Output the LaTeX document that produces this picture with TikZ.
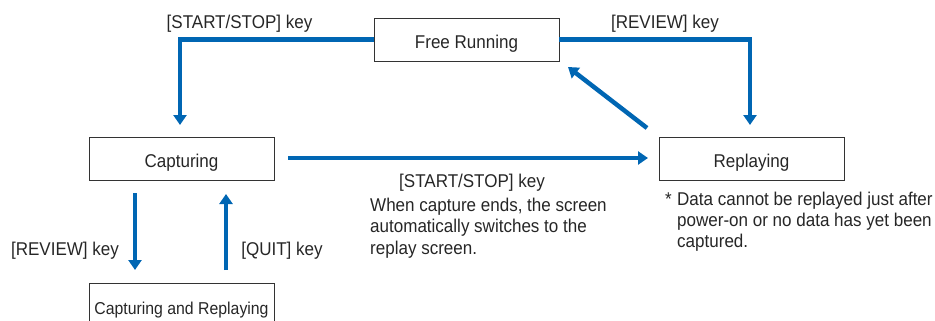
\documentclass[tikz,border=0pt]{standalone}
\usepackage{fontspec}
\setmainfont{Liberation Sans}[FakeStretch=0.92]
\usetikzlibrary{arrows.meta}
\definecolor{arrowblue}{HTML}{0066B3}
\definecolor{boxgray}{HTML}{333333}
\begin{document}
\begin{tikzpicture}[x=1pt,y=-1pt,
  every node/.style={font=\fontsize{18.5}{21.3}\selectfont, text=black!85, inner sep=0pt},
  statebox/.style={draw=boxgray, line width=0.9pt, minimum width=185pt, minimum height=43pt,
    text height=18pt, text depth=0pt},
  arr/.style={draw=arrowblue, line width=4.5pt, -{Triangle[width=13pt,length=10pt]}}]
\useasboundingbox (0,0) rectangle (935,321);
\clip (0,0) rectangle (935,321);
\node[statebox] (fr) at (466.5,39.5) {Free Running};
\node[statebox] (rp) at (751.5,158.5) {Replaying};
\node[statebox] (cap) at (181.5,158.5) {Capturing};
\node[statebox, font=\fontsize{17.2}{21}\selectfont] (cr) at (181.5,305) {Capturing and Replaying};
\coordinate (t1) at (180,125);
\coordinate (t2) at (750,125);
\coordinate (d1) at (647,128);
\coordinate (d2) at (568,67);
\coordinate (h1) at (288,158);
\coordinate (h2) at (648,158);
\coordinate (v1a) at (135,193);
\coordinate (v1b) at (135,270);
\coordinate (v2a) at (226,270);
\coordinate (v2b) at (226,194);
\draw[arr] (fr.west) -| (t1);
\draw[arr] (fr.east) -| (t2);
\draw[arr] (d1) -- (d2);
\draw[arr] (h1) -- (h2);
\draw[arr] (v1a) -- (v1b);
\draw[arr] (v2a) -- (v2b);
\node[anchor=base] (l1) at (239.5,29) {[START/STOP] key};
\node[anchor=base] (l2) at (665,29) {[REVIEW] key};
\node[anchor=base] (l3) at (65,255) {[REVIEW] key};
\node[anchor=base] (l4) at (282,255) {[QUIT] key};
\node[anchor=base west] (l5) at (399,187) {[START/STOP] key};
\node[align=left, anchor=base west] (l6) at (370,254) {When capture ends, the screen\\automatically switches to the\\replay screen.};
\node[anchor=base west] (star) at (665,205) {*};
\node[align=left, anchor=base west] (fn) at (677,247.7) {Data cannot be replayed just after\\power-on or no data has yet been\\captured.};
\end{tikzpicture}
\end{document}
